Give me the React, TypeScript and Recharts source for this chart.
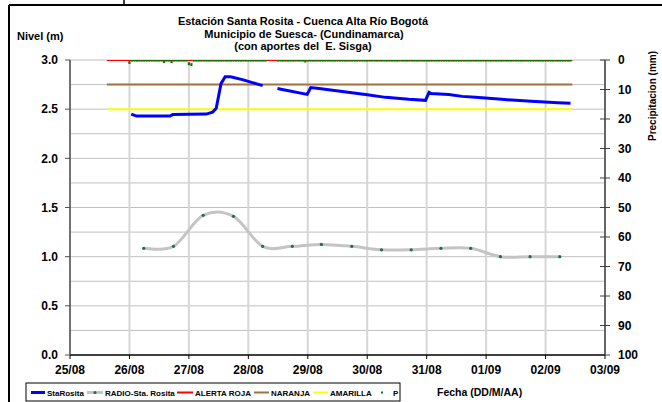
import React from 'react';
import { ComposedChart, Line, XAxis, YAxis, CartesianGrid } from 'recharts';

const FONT = '"Liberation Sans", Arial, Helvetica, sans-serif';

// Axis ticks / labels
const dayTicks = [0, 1, 2, 3, 4, 5, 6, 7, 8, 9];
const dayLabels = ['25/08', '26/08', '27/08', '28/08', '29/08', '30/08', '31/08', '01/09', '02/09', '03/09'];
const nivelTicks = [0, 0.5, 1, 1.5, 2, 2.5, 3];
const nivelGrid = [0.25, 0.5, 0.75, 1, 1.25, 1.5, 1.75, 2, 2.25, 2.5, 2.75, 3];
const precTicks = [0, 10, 20, 30, 40, 50, 60, 70, 80, 90, 100];

// StaRosita (nivel, m) — x in days since 25/08
const staDays = [1.03, 1.12, 1.68, 1.73, 2.29, 2.40, 2.46, 2.54, 2.61, 2.70, 2.90, 3.07, 3.24, 3.36, 3.49, 3.57, 3.99, 4.05, 4.19, 4.58, 4.97, 5.31, 5.70, 5.98, 6.04, 6.07, 6.37, 6.60, 6.82, 7.26, 7.76, 8.21, 8.42];
const staNivel = [2.45, 2.43, 2.43, 2.445, 2.45, 2.47, 2.51, 2.76, 2.83, 2.83, 2.80, 2.77, 2.74, null, 2.71, 2.70, 2.65, 2.72, 2.71, 2.68, 2.65, 2.62, 2.60, 2.59, 2.67, 2.66, 2.65, 2.63, 2.62, 2.60, 2.58, 2.565, 2.56];

// RADIO-Sta. Rosita
const radioDays = [1.24, 1.74, 2.24, 2.75, 3.24, 3.74, 4.23, 4.74, 5.24, 5.74, 6.24, 6.74, 7.24, 7.74, 8.24];
const radioNivel = [1.085, 1.105, 1.42, 1.41, 1.105, 1.105, 1.125, 1.105, 1.07, 1.07, 1.085, 1.085, 1.0, 1.0, 1.0];

// Threshold levels
const alertStart = 0.62;
const alertEnd = 8.45;
const rojaNivel = 3.0;
const naranjaNivel = 2.75;
const amarillaNivel = 2.5;

// P (precipitación, mm) hourly from 26/08 00:00
const pStartDay = 1;
const pValues: (number | null)[] = [
  0.8, 0, 0, 0, 0, 0, 0, 0, 0, 0, 0, 0, 0, 0, 0.5, 0, 0, 0.5, 0, 0, 0, 0, 0, 0,
  1.2, 1.5, 0, 0, 0, 0, 0, 0, 0, 0, 0, 0, 0, 0, 0, 0, 0, 0, 0, 0, 0, 0, 0, 0,
  0, 0, 0, 0, 0, 0, 0, 0, null, null, null, null, 0, 0, 0, 0, 0, 0, 0, 0, 0, 0, 0, 0.3,
  0, 0, 0, 0, 0, 0, 0, 0, 0, 0, 0, 0, 0, 0, 0, 0, 0, 0, 0, 0, 0, 0, 0, 0,
  0, 0, 0, 0, 0, 0, 0, 0, 0, 0, 0, 0, 0, 0, 0, 0, 0, 0, 0, 0, 0, 0, 0, 0,
  0, 0, 0, 0, 0, 0, 0, 0, 0, 0, 0, 0, 0, 0, 0, 0, 0, 0, 0, 0, 0, 0, 0, 0,
  0, 0, 0, 0, 0, 0, 0, 0, 0, 0, 0, 0, 0, 0, 0, 0, 0, 0, 0, 0, 0, 0, 0, 0,
  0, 0, 0, 0, 0, 0, 0, 0, 0, 0, 0,
];

const staData = staDays.map((x, i) => ({ x, v: staNivel[i] }));
const radioData = radioDays.map((x, i) => ({ x, v: radioNivel[i] }));
const rojaData = [{ x: alertStart, v: rojaNivel }, { x: alertEnd, v: rojaNivel }];
const naranjaData = [{ x: alertStart, v: naranjaNivel }, { x: alertEnd, v: naranjaNivel }];
const amarillaData = [{ x: alertStart, v: amarillaNivel }, { x: alertEnd, v: amarillaNivel }];
const pData = pValues
  .map((p, h) => ({ x: pStartDay + h / 24, p }))
  .filter((d) => d.p !== null);

// Excel-like smoothed line (uniform Catmull-Rom via cubic Beziers)
function smoothCurve(context: any) {
  let pts: number[][] = [];
  return {
    areaStart() {},
    areaEnd() {},
    lineStart() {
      pts = [];
    },
    point(x: number, y: number) {
      pts.push([+x, +y]);
    },
    lineEnd() {
      if (!pts.length) return;
      context.moveTo(pts[0][0], pts[0][1]);
      for (let i = 0; i < pts.length - 1; i++) {
        const p0 = pts[i - 1] || pts[i];
        const p1 = pts[i];
        const p2 = pts[i + 1];
        const p3 = pts[i + 2] || p2;
        context.bezierCurveTo(
          p1[0] + (p2[0] - p0[0]) / 6,
          p1[1] + (p2[1] - p0[1]) / 6,
          p2[0] - (p3[0] - p1[0]) / 6,
          p2[1] - (p3[1] - p1[1]) / 6,
          p2[0],
          p2[1]
        );
      }
    },
  };
}

const tickStyle = { fontSize: 12, fontWeight: 700, fill: '#000', fontFamily: FONT };

const RightTick = (props: any) => {
  const { x, y, payload } = props;
  const axisX = x - 13;
  return (
    <g>
      <line x1={axisX - 5} x2={axisX + 5} y1={y} y2={y} stroke="#404040" strokeWidth={1} />
      <text x={x} y={y} dy="0.355em" textAnchor="start" {...tickStyle}>
        {payload.value}
      </text>
    </g>
  );
};

const PDot = (props: any) => {
  const { cx, cy, index } = props;
  if (cx == null || cy == null) return <g key={`pd-${index}`} />;
  return <rect key={`pd-${index}`} x={cx - 1.1} y={cy - 1.2} width={2.2} height={2.8} fill="#007a00" />;
};

const RadioDot = (props: any) => {
  const { cx, cy, index } = props;
  if (cx == null || cy == null) return <g key={`rd-${index}`} />;
  return <circle key={`rd-${index}`} cx={cx} cy={cy} r={1.6} fill="#1d6b55" />;
};

export default function App() {
  return (
    <div style={{ position: 'absolute', left: 0, top: 0, width: 662, height: 402, background: '#fff', fontFamily: FONT }}>
      <ComposedChart width={662} height={402} margin={{ top: 60, right: 0, bottom: 0, left: 0 }}>
        <CartesianGrid
          xAxisId="x"
          yAxisId="left"
          vertical={false}
          horizontalValues={nivelGrid}
          stroke="#c0c0c0"
          strokeWidth={1}
        />
        <CartesianGrid
          xAxisId="x"
          yAxisId="left"
          horizontal={false}
          verticalValues={dayTicks}
          stroke="#d6d6d6"
          strokeWidth={2}
        />
        <XAxis
          xAxisId="x"
          type="number"
          dataKey="x"
          domain={[0, 9]}
          ticks={dayTicks}
          tickFormatter={(v: number) => dayLabels[v]}
          height={47}
          interval={0}
          axisLine={{ stroke: '#000', strokeWidth: 1.5 }}
          tickLine={{ stroke: '#000' }}
          tickSize={4}
          tickMargin={6}
          tick={tickStyle}
          allowDataOverflow
        />
        <YAxis
          yAxisId="left"
          orientation="left"
          type="number"
          domain={[0, 3]}
          ticks={nivelTicks}
          interval={0}
          width={70}
          tickFormatter={(v: number) => v.toFixed(1)}
          axisLine={{ stroke: '#505050', strokeWidth: 1.5 }}
          tickLine={{ stroke: '#505050' }}
          tickSize={5}
          tickMargin={7}
          tick={tickStyle}
          allowDataOverflow
        />
        <YAxis
          yAxisId="right"
          orientation="right"
          type="number"
          reversed
          domain={[0, 100]}
          ticks={precTicks}
          interval={0}
          width={57}
          axisLine={{ stroke: '#404040', strokeWidth: 1.5 }}
          tickLine={false}
          tickSize={5}
          tickMargin={8}
          tick={<RightTick />}
          allowDataOverflow
        />
        <Line
          xAxisId="x"
          yAxisId="left"
          data={rojaData}
          dataKey="v"
          name="ALERTA ROJA"
          stroke="#ff0000"
          strokeWidth={2}
          dot={false}
          isAnimationActive={false}
        />
        <Line
          xAxisId="x"
          yAxisId="left"
          data={naranjaData}
          dataKey="v"
          name="NARANJA"
          stroke="#a5703e"
          strokeWidth={2}
          dot={false}
          isAnimationActive={false}
        />
        <Line
          xAxisId="x"
          yAxisId="left"
          data={amarillaData}
          dataKey="v"
          name="AMARILLA"
          stroke="#ffff00"
          strokeWidth={2}
          dot={false}
          isAnimationActive={false}
        />
        <Line
          xAxisId="x"
          yAxisId="right"
          data={pData}
          dataKey="p"
          name="P"
          stroke="none"
          dot={<PDot />}
          activeDot={false}
          isAnimationActive={false}
        />
        <Line
          xAxisId="x"
          yAxisId="left"
          data={radioData}
          dataKey="v"
          name="RADIO-Sta. Rosita"
          type={smoothCurve as any}
          stroke="#c4c4c4"
          strokeWidth={3}
          dot={<RadioDot />}
          activeDot={false}
          isAnimationActive={false}
        />
        <Line
          xAxisId="x"
          yAxisId="left"
          data={staData}
          dataKey="v"
          name="StaRosita"
          stroke="#0000ff"
          strokeWidth={3}
          dot={false}
          activeDot={false}
          connectNulls={false}
          isAnimationActive={false}
        />
      </ComposedChart>
      <svg
        width={662}
        height={402}
        style={{ position: 'absolute', left: 0, top: 0, pointerEvents: 'none' }}
        fontFamily={FONT}
      >
        {/* frame */}
        <line x1={9} x2={662} y1={5} y2={5} stroke="#000" strokeWidth={2} />
        <line x1={124} x2={124} y1={0} y2={5} stroke="#000" strokeWidth={1.5} />
        <line x1={9} x2={9} y1={5} y2={402} stroke="#000" strokeWidth={2} />
        {/* titles */}
        <g fontSize={11} fontWeight={700} textAnchor="middle" fill="#000">
          <text x={303} y={25}>Estación Santa Rosita - Cuenca Alta Río Bogotá</text>
          <text x={304} y={37.5}>Municipio de Suesca- (Cundinamarca)</text>
          <text x={303} y={50}>{'(con aportes del\u00a0 E. Sisga)'}</text>
        </g>
        <text x={17} y={40} fontSize={11} fontWeight={700} fill="#000">Nivel (m)</text>
        <text
          x={0}
          y={0}
          transform="translate(656,96) rotate(-90)"
          fontSize={10}
          fontWeight={700}
          textAnchor="middle"
          fill="#000"
        >
          Precipitacion (mm)
        </text>
        <text x={437} y={396} fontSize={10.5} fontWeight={700} fill="#000">Fecha (DD/M/AA)</text>
        {/* legend */}
        <rect x={26} y={383} width={374} height={18} fill="#fff" stroke="#000" strokeWidth={1} />
        <g fontSize={8} fontWeight={700} fill="#000">
          <line x1={31} x2={45} y1={392.5} y2={392.5} stroke="#0000ff" strokeWidth={3} />
          <text x={47} y={395.5}>StaRosita</text>
          <line x1={87} x2={103} y1={392.5} y2={392.5} stroke="#c4c4c4" strokeWidth={3} />
          <circle cx={95} cy={392.5} r={1.5} fill="#1d6b55" />
          <text x={105} y={395.5}>RADIO-Sta. Rosita</text>
          <line x1={177} x2={193} y1={392.5} y2={392.5} stroke="#ff0000" strokeWidth={2} />
          <text x={195} y={395.5}>ALERTA ROJA</text>
          <line x1={254} x2={269} y1={392.5} y2={392.5} stroke="#a5703e" strokeWidth={2} />
          <text x={271} y={395.5}>NARANJA</text>
          <line x1={313} x2={328} y1={392.5} y2={392.5} stroke="#ffff00" strokeWidth={2} />
          <text x={330} y={395.5}>AMARILLA</text>
          <rect x={381} y={391.5} width={2} height={2} fill="#008000" />
          <text x={393} y={395.5}>P</text>
        </g>
      </svg>
    </div>
  );
}
